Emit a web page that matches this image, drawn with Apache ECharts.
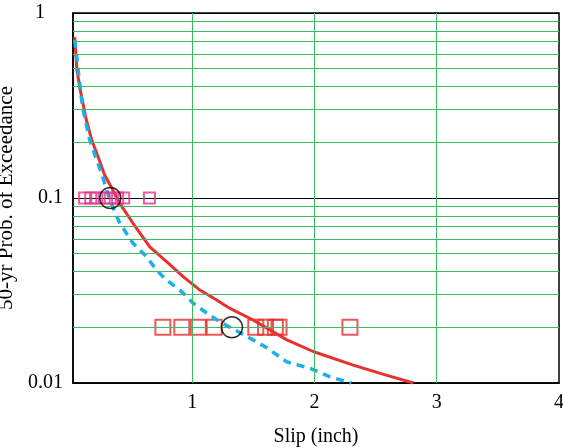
<!DOCTYPE html>
<html>
<head>
<meta charset="utf-8">
<script src="https://cdn.jsdelivr.net/npm/echarts@6/dist/echarts.min.js"></script>
<style>html,body{margin:0;padding:0;background:#fff}#c{width:563px;height:448px}</style>
</head>
<body>
<div id="c"></div>
<script>
// Red solid curve
const redX = [0.039,0.057,0.084,0.134,0.178,0.23,0.284,0.352,0.407,0.516,0.653,0.79,0.926,1.063,1.2,1.309,1.498,1.774,1.989,2.317,2.593,2.81];
const redY = [0.741,0.492,0.384,0.264,0.206,0.167,0.133,0.110,0.0936,0.0730,0.0545,0.0453,0.0376,0.0318,0.0281,0.0253,0.0219,0.0171,0.0148,0.0125,0.0110,0.0100];
// Blue dashed curve
const blueX = [0.039,0.102,0.161,0.257,0.325,0.407,0.514,0.626,0.708,0.79,0.899,1.006,1.118,1.227,1.498,1.61,1.774,1.965,2.129,2.30];
const blueY = [0.715,0.312,0.206,0.137,0.0976,0.0733,0.0571,0.0482,0.0408,0.036,0.0318,0.0271,0.0239,0.0214,0.0171,0.0155,0.013,0.012,0.0108,0.0100];
// Pink squares at 0.1
const pinkX = [0.12,0.17,0.22,0.28,0.33,0.39,0.44,0.65];
const pinkY = [0.1,0.1,0.1,0.1,0.1,0.1,0.1,0.1];
// Red squares at 0.02
const sqX = [0.76,0.915,1.05,1.18,1.52,1.60,1.68,1.71,2.29];
const sqY = [0.02,0.02,0.02,0.02,0.02,0.02,0.02,0.02,0.02];
// Black circles
const circX = [0.33,1.325];
const circY = [0.1,0.02];
// Axis ticks / grid
const xTicks = [1,2,3,4];
const xGrid = [1,2,3];
const yMinor = [0.02,0.03,0.04,0.05,0.06,0.07,0.08,0.09,0.2,0.3,0.4,0.5,0.6,0.7,0.8,0.9];

const zip = (a,b) => a.map((v,i)=>[v,b[i]]);
const font = 'Liberation Serif';
const green = '#3dbb5e';

const chart = echarts.init(document.getElementById('c'));
chart.setOption({
  animation: false,
  backgroundColor: '#fff',
  grid: {left: 73, right: 4, top: 13, bottom: 65, show: true, borderColor: '#000', borderWidth: 1.5,
         backgroundColor: 'transparent', containLabel: false, outerBoundsMode: 'none'},
  xAxis: {
    type: 'value', min: 0.025, max: 4,
    axisLine: {lineStyle: {color: '#000', width: 1.5}},
    axisTick: {show: false, customValues: xTicks},
    splitLine: {show: false},
    axisLabel: {customValues: xTicks, color: '#000', fontFamily: font, fontSize: 20, margin: 10},
    name: 'Slip (inch)', nameLocation: 'middle', nameGap: 44,
    nameTextStyle: {color: '#000', fontFamily: font, fontSize: 20}
  },
  yAxis: {
    type: 'log', logBase: 10, min: 0.01, max: 1,
    axisLine: {lineStyle: {color: '#000', width: 1.5}},
    axisTick: {show: false},
    splitLine: {show: true, lineStyle: {color: '#000', width: 1.2}},
    minorSplitLine: {show: false},
    axisLabel: {color: '#000', fontFamily: font, fontSize: 20, margin: 10,
      formatter: v => (v >= 1 ? '{one|1}' : String(+v.toPrecision(3))),
      rich: {one: {fontFamily: font, fontSize: 20, color: '#000', padding: [0, 18, 0, 0]}}},
    name: '50-yr Prob. of Exceedance', nameLocation: 'middle', nameGap: 45,
    nameTextStyle: {color: '#000', fontFamily: font, fontSize: 21}
  },
  series: [
    {
      type: 'line', data: [], z: 1, silent: true,
      markLine: {
        silent: true, symbol: 'none', label: {show: false}, animation: false,
        lineStyle: {color: green, width: 1, type: 'solid'},
        data: yMinor.map(v => ({yAxis: v})).concat(xGrid.map(v => ({xAxis: v})))
      }
    },
    {
      type: 'line', data: zip(redX, redY), showSymbol: false, z: 3,
      lineStyle: {color: '#e8302e', width: 3}
    },
    {
      type: 'line', data: zip(blueX, blueY), showSymbol: false, z: 4,
      lineStyle: {color: '#1ab0e8', width: 3.5, type: [8, 6]}
    },
    {
      type: 'scatter', data: zip(pinkX, pinkY), symbol: 'rect', symbolSize: 11, z: 5,
      itemStyle: {color: 'transparent', borderColor: '#e2358a', borderWidth: 2}
    },
    {
      type: 'scatter', data: zip(sqX, sqY), symbol: 'rect', symbolSize: 15, z: 2,
      itemStyle: {color: 'transparent', borderColor: '#e8302e', borderWidth: 2}
    },
    {
      type: 'scatter', data: zip(circX, circY), symbol: 'circle', symbolSize: 21, z: 5,
      itemStyle: {color: 'transparent', borderColor: '#000', borderWidth: 1.5}
    }
  ]
});
</script>
</body>
</html>
